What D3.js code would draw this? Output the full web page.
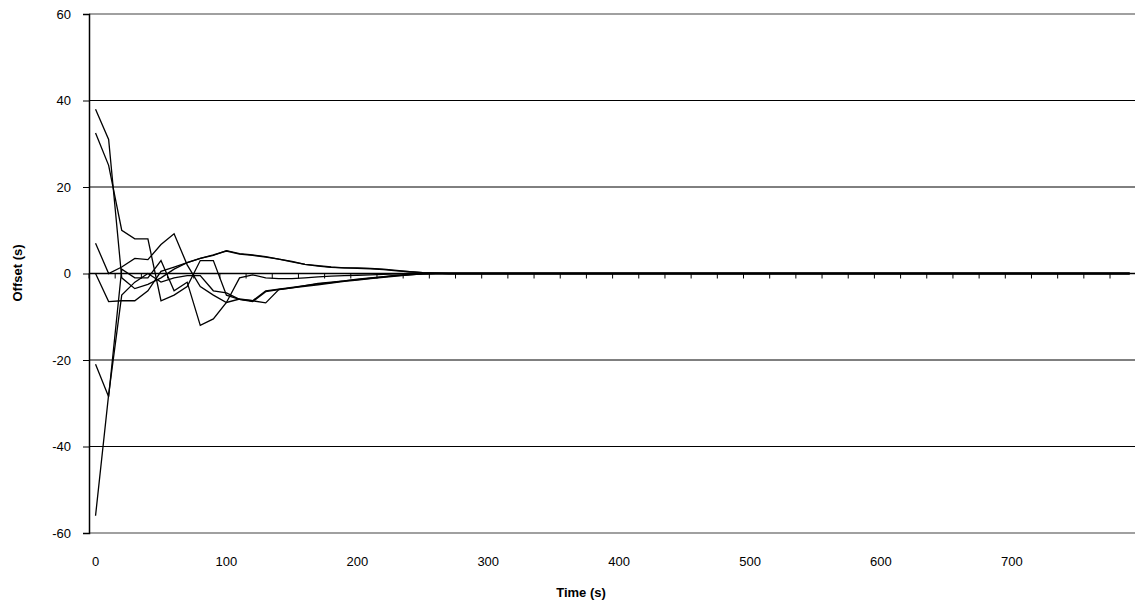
<!DOCTYPE html>
<html>
<head>
<meta charset="utf-8">
<script src="https://cdn.jsdelivr.net/npm/d3@7"></script>
<style>
  body { margin: 0; background: #fff; }
  text { font-family: "Liberation Sans", Arial, sans-serif; }
</style>
</head>
<body>
<script>
// time categories, 10 s apart
var times = d3.range(0, 800, 10);
var tickLabels = [0, 100, 200, 300, 400, 500, 600, 700];
var yTicks = [-60, -40, -20, 0, 20, 40, 60];

// offsets per node (s); tail stays at 0
var node1 = [38, 31, -1, -3.5, -2.5, -1, 1, 2.5, 3.5, 4.2, 5.3, 4.6, 4.3, 3.9, 3.3, 2.8, 2.1, 1.8, 1.5, 1.3, 1.3, 1.2, 1, 0.7, 0.4, 0.2, 0.1, 0, 0, 0];
var node2 = [32.5, 25, 10, 8, 8, -6.3, -5, -3, 3, 3, -5, -6, -6.5, -4.2, -3.7, -3.3, -2.8, -2.3, -2, -1.7, -1.3, -1, -0.7, -0.4, -0.2, -0.1, 0, 0, 0, 0];
var node3 = [7, 0, 1.5, 3.5, 3.2, 6.7, 9.2, 2, -3, -5, -6.7, -5.9, -6.3, -6.8, -3.7, -3.3, -3, -2.6, -2.2, -1.8, -1.5, -1.2, -0.9, -0.6, -0.3, -0.1, 0, 0, 0, 0];
var node4 = [0, -6.5, -6.3, -6.3, -4, 0.5, 1.5, 2.5, 3.5, 4.3, 5.2, 4.5, 4.2, 3.8, 3.3, 2.7, 2.1, 1.7, 1.4, 1.3, 1.2, 1.1, 0.9, 0.6, 0.4, 0.2, 0.1, 0, 0, 0];
var node5 = [-21, -28.5, 1, -1, -1, 3, -4, -2, -12, -10.5, -6.7, -1, -0.3, -1, -1.2, -1.2, -1, -0.8, -0.6, -0.5, -0.4, -0.3, -0.2, -0.1, 0, 0, 0, 0, 0, 0];
var node6 = [-56, -28, -5, -2, 0, -2, -1, -0.5, -0.5, -4, -4.5, -6, -6.3, -4, -3.6, -3.2, -2.8, -2.4, -2.1, -1.7, -1.4, -1.1, -0.8, -0.5, -0.3, -0.1, 0, 0, 0, 0];

var series = [node1, node2, node3, node4, node5, node6];

var W = 1135, H = 609;
var plotLeft = 89, plotTop = 14, plotBottom = 533;
var svg = d3.select("body").append("svg").attr("width", W).attr("height", H);

var x = d3.scaleBand().domain(times).range([plotLeft, plotLeft + 13.09 * times.length]);
var y = d3.scaleLinear().domain([-60, 60]).range([plotBottom, plotTop]);

// gridlines
svg.append("g").selectAll("line").data(yTicks).enter().append("line")
  .attr("x1", plotLeft).attr("x2", W)
  .attr("y1", function(d) { return y(d); }).attr("y2", function(d) { return y(d); })
  .attr("stroke", function(d) { return Math.abs(d) == 60 ? "#808080" : "#000"; })
  .attr("stroke-width", function(d) { return Math.abs(d) == 60 ? 1.5 : 1; });

// y axis (plain hyphen minus like the original)
var yAxis = svg.append("g").attr("transform", "translate(" + plotLeft + ",0)")
  .call(d3.axisLeft(y).tickValues(yTicks).tickSize(6).tickPadding(12)
    .tickFormat(function(d) { return String(d); }));
yAxis.select(".domain").attr("stroke", "#000").attr("stroke-width", 1.5);
yAxis.selectAll("line").attr("stroke", "#000");
yAxis.selectAll("text").attr("font-size", 13).attr("fill", "#000")
  .attr("font-family", "Liberation Sans, Arial, sans-serif");

// x axis at y = 0, tick every second category boundary
var xAxisLine = svg.append("g");
xAxisLine.append("line").attr("x1", plotLeft).attr("x2", W).attr("y1", y(0)).attr("y2", y(0))
  .attr("stroke", "#000").attr("stroke-width", 1.5);
xAxisLine.selectAll("line.tk").data(d3.range(0, times.length + 1, 2)).enter().append("line")
  .attr("class", "tk")
  .attr("x1", function(i) { return plotLeft + i * x.step(); })
  .attr("x2", function(i) { return plotLeft + i * x.step(); })
  .attr("y1", y(0)).attr("y2", y(0) + 5)
  .attr("stroke", "#000").attr("stroke-width", 1);

// x labels along the bottom
svg.append("g").selectAll("text").data(tickLabels).enter().append("text")
  .attr("x", function(d) { return x(d) + x.bandwidth() / 2; })
  .attr("y", 566)
  .attr("text-anchor", "middle").attr("font-size", 13)
  .text(function(d) { return d; });

// lines
var line = d3.line()
  .x(function(d, i) { return x(times[i]) + x.bandwidth() / 2; })
  .y(function(d) { return y(d); });
svg.append("g").selectAll("path").data(series).enter().append("path")
  .attr("d", function(s) {
    var full = times.map(function(t, i) { return i < s.length ? s[i] : 0; });
    return line(full);
  })
  .attr("fill", "none").attr("stroke", "#000").attr("stroke-width", 1.3);

// axis titles
svg.append("text").attr("x", 581).attr("y", 597).attr("text-anchor", "middle")
  .attr("font-size", 13).attr("font-weight", "bold").text("Time (s)");
svg.append("text").attr("transform", "translate(22,273)rotate(-90)")
  .attr("text-anchor", "middle").attr("font-size", 13).attr("font-weight", "bold")
  .text("Offset (s)");
</script>
</body>
</html>
